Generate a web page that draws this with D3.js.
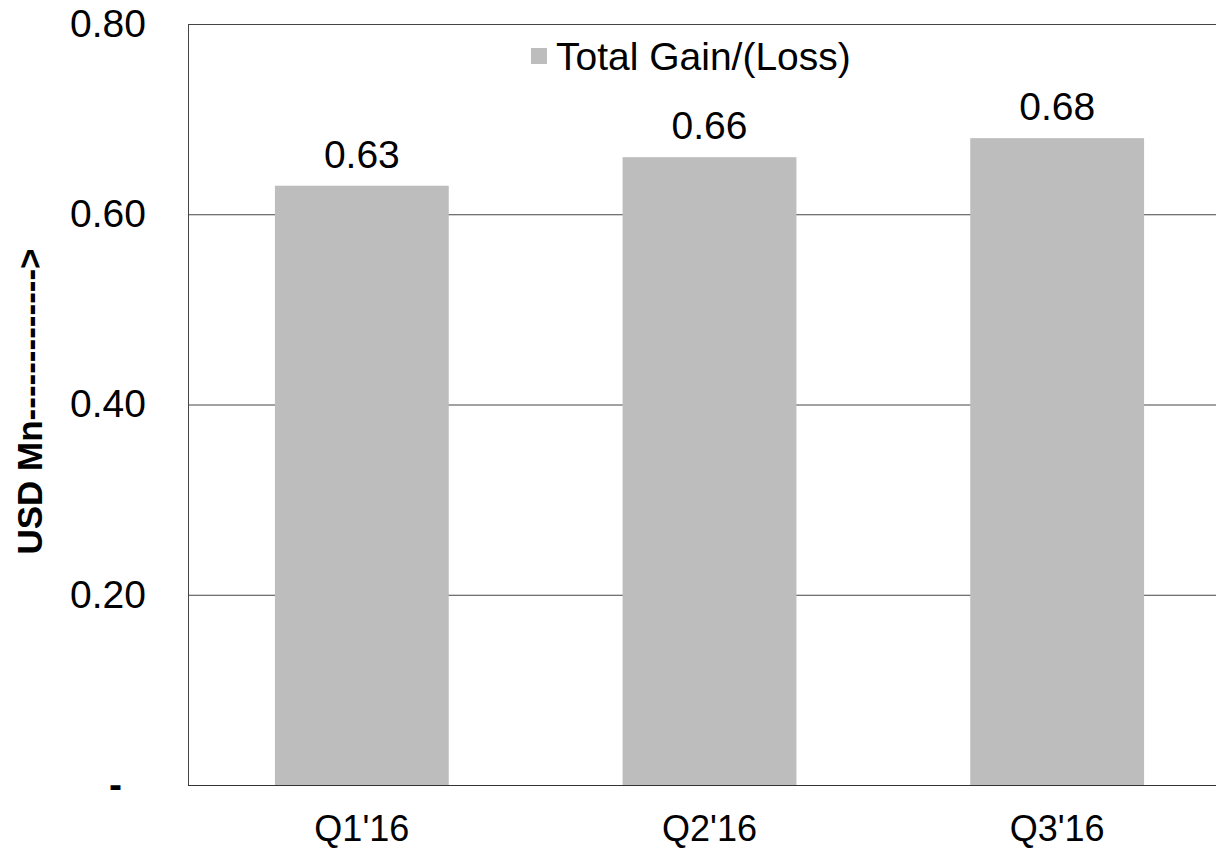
<!DOCTYPE html>
<html lang="en">
<head>
<meta charset="UTF-8" />
<title>Total Gain/(Loss)</title>
<script src="https://cdn.jsdelivr.net/npm/d3@7"></script>
<style>
    body { margin: 0; background: #fff; }
    svg { display: block; font-family: "Liberation Sans", Arial, sans-serif; }
</style>
</head>
<body>
<script>
    // data
    const quarters = ["Q1'16", "Q2'16", "Q3'16"];
    const gains = [0.63, 0.66, 0.68];
    const yTicks = [0, 0.2, 0.4, 0.6, 0.8];
    const yTickLabels = ["-", "0.20", "0.40", "0.60", "0.80"];
    const seriesName = "Total Gain/(Loss)";
    const yTitle = "USD Mn------------->";

    const width = 1216, height = 850;
    const margin = { left: 188, top: 24, right: -15, bottom: 65 };
    const barColor = "#bdbdbd";

    const svg = d3.select("body").append("svg")
        .attr("width", width)
        .attr("height", height);

    const x = d3.scaleBand()
        .domain(quarters)
        .range([margin.left, width - margin.right])
        .paddingInner(0.5)
        .paddingOuter(0.25);

    const y = d3.scaleLinear()
        .domain([0, 0.8])
        .range([height - margin.bottom, margin.top]);

    // grid lines
    svg.append("g")
        .selectAll("line")
        .data(yTicks.slice(1))
        .join("line")
        .attr("x1", margin.left)
        .attr("x2", width)
        .attr("y1", d => y(d) + 0.5)
        .attr("y2", d => y(d) + 0.5)
        .attr("stroke", "#444")
        .attr("stroke-width", 1);

    // left frame line
    svg.append("line")
        .attr("x1", margin.left + 0.5).attr("x2", margin.left + 0.5)
        .attr("y1", y(0.8)).attr("y2", y(0))
        .attr("stroke", "#444");

    // bars
    svg.append("g")
        .selectAll("rect")
        .data(gains)
        .join("rect")
        .attr("x", (d, i) => x(quarters[i]))
        .attr("y", d => y(d))
        .attr("width", x.bandwidth())
        .attr("height", d => y(0) - y(d))
        .attr("fill", barColor);

    // value labels
    svg.append("g")
        .selectAll("text")
        .data(gains)
        .join("text")
        .attr("x", (d, i) => x(quarters[i]) + x.bandwidth() / 2)
        .attr("y", d => y(d) - 18)
        .attr("text-anchor", "middle")
        .attr("font-size", 39)
        .text(d => d3.format(".2f")(d));

    // x axis
    const xAxis = svg.append("g")
        .attr("transform", `translate(0,${y(0)})`)
        .call(d3.axisBottom(x).tickSize(0).tickPadding(30));
    xAxis.select(".domain").attr("stroke", "#333").attr("d", `M${margin.left},0.5H${width}`);
    xAxis.selectAll("text")
        .attr("font-size", 36)
        .attr("font-family", "Liberation Sans, Arial, sans-serif")
        .attr("fill", "#000");

    // y axis
    const yAxis = svg.append("g")
        .attr("transform", `translate(${margin.left},0)`)
        .call(d3.axisLeft(y).tickValues(yTicks).tickSize(0).tickPadding(42)
            .tickFormat((d, i) => yTickLabels[i]));
    yAxis.select(".domain").remove();
    yAxis.selectAll("text")
        .attr("font-size", 39)
        .attr("font-family", "Liberation Sans, Arial, sans-serif")
        .attr("fill", "#000")
        .attr("dx", (d, i) => i === 0 ? -24 : 0)
        .attr("font-weight", (d, i) => i === 0 ? "bold" : null);

    svg.append("text")
        .attr("transform", `translate(42,${(y(0) + y(0.8)) / 2 - 3}) rotate(-90)`)
        .attr("text-anchor", "middle")
        .attr("font-size", 35)
        .attr("font-weight", "bold")
        .text(yTitle);

    // legend
    const legend = svg.append("g").attr("transform", "translate(531,48)");
    legend.append("rect")
        .attr("width", 16).attr("height", 16)
        .attr("fill", barColor);
    legend.append("text")
        .attr("x", 25).attr("y", 8)
        .attr("dy", "0.35em")
        .attr("font-size", 39)
        .text(seriesName);
</script>
</body>
</html>
